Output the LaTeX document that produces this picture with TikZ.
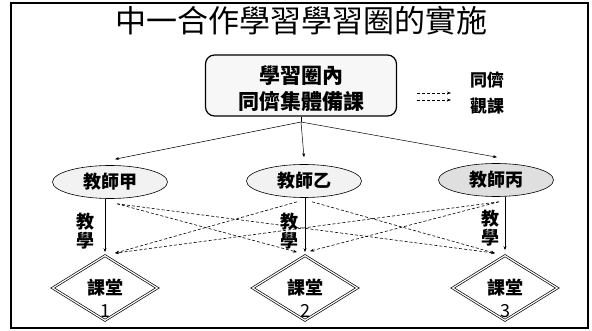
\documentclass[tikz,border=0pt]{standalone}
\usepackage{fontspec}
\setmainfont{Noto Sans CJK TC}
\usetikzlibrary{shapes.geometric,arrows.meta,calc}
\begin{document}
\begin{tikzpicture}[x=1pt,y=-1pt,
  every node/.style={inner sep=0pt},
  titlefont/.style={font=\fontsize{31}{33}\selectfont},
  boxtxt/.style={font=\fontsize{21}{26}\selectfont\bfseries,align=center},
  planbox/.style={draw,line width=1.2pt,rounded corners=9pt,fill=gray!6,minimum width=191pt,minimum height=61pt},
  teacher/.style={ellipse,draw,line width=0.6pt,fill=gray!10,minimum width=115pt,minimum height=33pt,font=\fontsize{18}{20}\selectfont\bfseries},
  teacherdark/.style={teacher,fill=gray!25},
  room/.style={diamond,draw,double,double distance=1.2pt,line width=0.7pt,minimum width=105pt,minimum height=65pt,font=\fontsize{18}{20}\selectfont\bfseries},
  lbl/.style={font=\fontsize{18}{19}\selectfont\bfseries,align=center},
  numlbl/.style={font=\fontsize{18}{20}\selectfont},
  solidarr/.style={-{Stealth[length=4pt,width=3pt]},line width=0.5pt},
  dasharr/.style={-{Stealth[length=4pt,width=3pt]},line width=0.6pt,dash pattern=on 3pt off 2pt}]
\useasboundingbox (0,0) rectangle (592,331);
\draw[line width=1.5pt] (11,3) rectangle (588,328);

% title
\node[titlefont] (title) at (301,21) {中一合作學習學習圈的實施};

% planning box
\node[planbox] (plan) at (301,85.5) {};
\node[boxtxt] (plantxt) at (301,89) {學習圈內\\同儕集體備課};

% legend
\coordinate (lg1a) at (417,93);
\coordinate (lg1b) at (451,93);
\coordinate (lg2a) at (417,100);
\coordinate (lg2b) at (451,100);
\draw[dasharr,line width=0.5pt] (lg1a) -- (lg1b);
\draw[dasharr,line width=0.5pt] (lg2a) -- (lg2b);
\node[lbl,font=\fontsize{17}{26}\selectfont\bfseries] (legtxt) at (487,93) {同儕\\觀課};

% teachers
\node[teacher] (t1) at (110,182) {教師甲};
\node[teacher] (t2) at (304,181) {教師乙};
\node[teacherdark] (t3) at (496,180) {教師丙};

% classrooms
\node[room] (d1) at (105,288) {課堂};
\node[room] (d2) at (305,288) {課堂};
\node[room] (d3) at (505,288) {課堂};
\node[numlbl] (n1) at ($(d1.center)+(0,23)$) {1};
\node[numlbl] (n2) at ($(d2.center)+(0,23)$) {2};
\node[numlbl] (n3) at ($(d3.center)+(0,23)$) {3};

% branching from planning box
\coordinate (br) at (301,122);
\draw[line width=0.5pt] (plan.south) -- (br);
\draw[solidarr] (br) -- ($(t1.north)+(5,-6)$);
\draw[solidarr] (br) -- ($(t2.north)+(0,-7)$);
\draw[solidarr] (br) -- ($(t3.north)+(1,-6)$);

% teaching arrows
\draw[solidarr] (t1.south -| d1.north) -- ($(d1.north)+(0,-3)$);
\draw[solidarr] (t2.south -| d2.north) -- ($(d2.north)+(0,-3)$);
\draw[solidarr] (t3.south -| d3.north) -- ($(d3.north)+(0,-5)$);
\node[lbl] (k1) at (85,231) {教\\學};
\node[lbl] (k2) at (289,231) {教\\學};
\node[lbl] (k3) at (490,228) {教\\學};

% peer observation arrows
\draw[dasharr] ($(t1.south)+(7,5)$) -- ($(d2.north)+(-8,-3)$);
\draw[dasharr] ($(t1.south)+(7,5)$) -- ($(d3.north)+(-10,-2)$);
\draw[dasharr] ($(t2.south)+(-7,4)$) -- ($(d1.north)+(10,-2)$);
\draw[dasharr] ($(t2.south)+(8,4)$) -- ($(d3.north)+(-10,-2)$);
\draw[dasharr] ($(t3.south)+(3,5)$) -- ($(d1.north)+(10,-2)$);
\draw[dasharr] ($(t3.south)+(3,5)$) -- ($(d2.north)+(5,-4)$);
\end{tikzpicture}
\end{document}
